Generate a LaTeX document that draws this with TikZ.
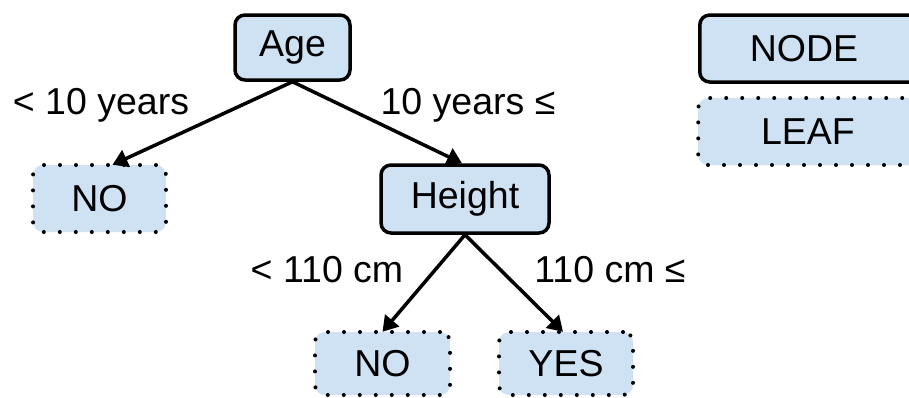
\documentclass[tikz,border=0pt]{standalone}
\usepackage{fontspec}
\setmainfont{Liberation Sans}
\usetikzlibrary{arrows.meta}
\definecolor{boxfill}{HTML}{CFE2F3}
\begin{document}
\begin{tikzpicture}[x=1pt,y=-1pt,
  font=\fontsize{37.5}{45}\selectfont,
  inner sep=0pt,
  nodebox/.style={draw=black, line width=3.5pt, fill=boxfill, rounded corners=10pt},
  leafbox/.style={fill=boxfill, rounded corners=10pt,
    postaction={draw=black, line width=4pt, line cap=round, dash pattern=on 0pt off 16pt}},
  edge/.style={draw=black, line width=3.5pt, -{Triangle[width=18pt,length=15pt]}},
  lbl/.style={text=black}]
  \useasboundingbox (0,0) rectangle (909,397);

  % decision nodes
  \node[nodebox, minimum width=115pt, minimum height=65pt] (age) at (292.5,47.5) {Age};
  \node[nodebox, minimum width=168pt, minimum height=68pt] (height) at (465,199) {Height};

  % leaves
  \node[leafbox, minimum width=133pt, minimum height=67pt] (no1) at (99.5,198.5) {NO};
  \node[leafbox, minimum width=135pt, minimum height=63pt] (no2) at (382.5,363.5) {NO};
  \node[leafbox, minimum width=134pt, minimum height=63pt] (yes) at (566,363.5) {YES};

  % legend boxes, cut off by the right edge of the page
  \begin{scope}
    \clip (0,0) rectangle (909,397);
    \node[nodebox, minimum width=230pt, minimum height=67pt, anchor=west] (legnode) at (698,48.5) {};
    \node[leafbox, minimum width=230pt, minimum height=67pt, anchor=west] (legleaf) at (698,131.5) {};
  \end{scope}
  \node[lbl] (legnodetext) at (804,48.5) {NODE};
  \node[lbl] (legleaftext) at (808,131.5) {LEAF};

  % branches
  \draw[edge] (age.south) -- ([xshift=13pt]no1.north);
  \draw[edge] (age.south) -- ([xshift=-3pt]height.north);
  \draw[edge] (height.south) -- (no2.north);
  \draw[edge] (height.south) -- ([xshift=-3pt]yes.north);

  % branch labels
  \node[lbl] (l1) at (101,105) {< 10 years};
  \node[lbl] (l2) at (468,105) {10 years ≤};
  \node[lbl] (l3) at (327,270) {< 110 cm};
  \node[lbl] (l4) at (610,270) {110 cm ≤};
\end{tikzpicture}
\end{document}
